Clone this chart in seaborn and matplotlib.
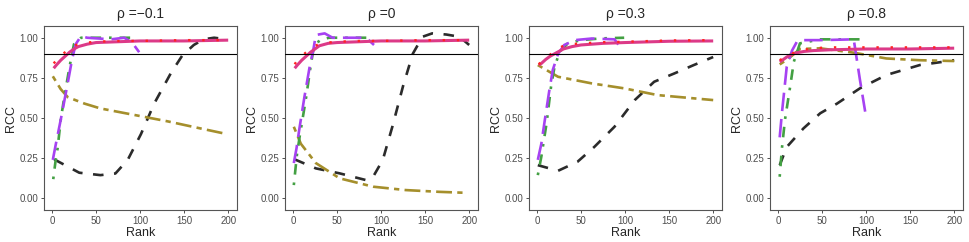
import numpy as np
import pandas as pd
import matplotlib
matplotlib.use("Agg")
import matplotlib.pyplot as plt
import seaborn as sns

sns.set_theme(style="white")
plt.rcParams['font.family'] = ['Liberation Sans', 'DejaVu Sans']

# ---------------- data ----------------
titles = ["ρ =\u22120.1", "ρ =0", "ρ =0.3", "ρ =0.8"]
x_ticks = [0, 50, 100, 150, 200]
y_ticks = [0.00, 0.25, 0.50, 0.75, 1.00]
threshold = 0.9

rank_a = [2, 5, 10, 15, 20, 25, 30, 40, 50, 75, 100, 150, 200]

# panel 1: rho = -0.1
p1_red = [0.84, 0.86, 0.89, 0.91, 0.93, 0.95, 0.96, 0.97, 0.975, 0.98, 0.98, 0.985, 0.985]
p1_mag = [0.81, 0.83, 0.86, 0.885, 0.91, 0.93, 0.945, 0.96, 0.97, 0.975, 0.98, 0.98, 0.985]
p1_pur_r = [1, 4.5, 10, 18, 23, 27, 33, 40, 67, 82, 91, 99]
p1_pur = [0.24, 0.34, 0.49, 0.72, 0.87, 0.96, 1.01, 1.0, 0.99, 1.0, 0.97, 0.91]
p1_grn_r = [1.5, 4.5, 6.4, 10, 14, 20, 25, 33, 55, 91]
p1_grn = [0.12, 0.25, 0.31, 0.49, 0.63, 0.82, 0.96, 1.0, 1.0, 1.0]
p1_olv_r = [1, 10, 18, 37, 55, 93, 131, 169, 199]
p1_olv = [0.76, 0.68, 0.63, 0.59, 0.56, 0.52, 0.48, 0.435, 0.40]
p1_blk_r = [2.6, 31, 55, 72, 86, 101, 116, 135, 148, 161, 172, 184, 199]
p1_blk = [0.243, 0.16, 0.145, 0.155, 0.24, 0.40, 0.59, 0.78, 0.89, 0.955, 0.99, 1.0, 0.99]

# panel 2: rho = 0
p2_red = [0.835, 0.86, 0.885, 0.91, 0.93, 0.95, 0.96, 0.97, 0.975, 0.98, 0.98, 0.985, 0.985]
p2_mag = [0.81, 0.83, 0.86, 0.885, 0.91, 0.93, 0.95, 0.965, 0.97, 0.975, 0.98, 0.98, 0.985]
p2_pur_r = [1, 4, 7.5, 13, 19, 23, 26, 36, 45, 68, 83, 92]
p2_pur = [0.22, 0.31, 0.44, 0.63, 0.82, 0.92, 1.017, 1.027, 1.0, 1.0, 1.0, 0.955]
p2_grn_r = [1, 4.5, 7.5, 15, 20, 23, 30, 41, 91]
p2_grn = [0.083, 0.27, 0.38, 0.63, 0.82, 0.92, 0.985, 1.0, 1.0]
p2_olv_r = [1, 9, 26, 53, 91, 128, 166, 196]
p2_olv = [0.446, 0.34, 0.22, 0.125, 0.073, 0.052, 0.041, 0.035]
p2_blk_r = [2, 26, 53, 83, 91, 102, 113, 125, 136, 147, 158, 174, 189, 200]
p2_blk = [0.243, 0.187, 0.156, 0.114, 0.135, 0.24, 0.45, 0.70, 0.90, 1.006, 1.027, 1.02, 1.006, 0.955]

# panel 3: rho = 0.3
p3_red = [0.835, 0.85, 0.875, 0.895, 0.915, 0.935, 0.95, 0.96, 0.965, 0.972, 0.975, 0.983, 0.985]
p3_mag = [0.83, 0.84, 0.865, 0.885, 0.9, 0.915, 0.93, 0.945, 0.955, 0.965, 0.97, 0.978, 0.98]
p3_pur_r = [1, 5, 9, 14, 18, 24, 31, 43, 62, 88, 94, 97]
p3_pur = [0.24, 0.34, 0.49, 0.67, 0.80, 0.90, 0.955, 0.985, 0.995, 0.99, 0.945, 0.925]
p3_grn_r = [1, 5, 11, 16, 20, 26, 35, 50, 73, 99]
p3_grn = [0.145, 0.26, 0.47, 0.695, 0.82, 0.913, 0.965, 0.985, 0.996, 1.0]
p3_olv_r = [1, 24, 62, 99, 137, 200]
p3_olv = [0.83, 0.757, 0.716, 0.685, 0.643, 0.612]
p3_blk_r = [1, 24, 46, 65, 88, 111, 133, 156, 178, 200]
p3_blk = [0.207, 0.172, 0.228, 0.32, 0.446, 0.612, 0.726, 0.778, 0.83, 0.88]

# panel 4: rho = 0.8
rank_b = [2, 5, 10, 15, 20, 30, 40, 60, 100, 150, 200]
p4_red = [0.86, 0.87, 0.885, 0.9, 0.91, 0.925, 0.935, 0.94, 0.94, 0.94, 0.94]
p4_mag = [0.85, 0.86, 0.88, 0.895, 0.905, 0.915, 0.92, 0.925, 0.93, 0.93, 0.935]
p4_pur_r = [2, 4.5, 10, 16, 21.5, 29, 48, 86, 93, 99]
p4_pur = [0.38, 0.53, 0.82, 0.92, 0.975, 0.985, 0.985, 0.99, 0.74, 0.54]
p4_grn_r = [2, 4.5, 8, 14, 18, 25, 48, 93]
p4_grn = [0.135, 0.31, 0.49, 0.70, 0.85, 0.965, 0.99, 0.99]
p4_olv_r = [2, 12, 25, 48, 86, 123, 161, 200]
p4_olv = [0.834, 0.87, 0.93, 0.934, 0.907, 0.871, 0.86, 0.855]
p4_blk_r = [2, 10, 29, 48, 67, 93, 123, 161, 200]
p4_blk = [0.207, 0.32, 0.436, 0.53, 0.59, 0.685, 0.768, 0.83, 0.86]

panels = [
    dict(red=(rank_a, p1_red), mag=(rank_a, p1_mag), pur=(p1_pur_r, p1_pur),
         grn=(p1_grn_r, p1_grn), olv=(p1_olv_r, p1_olv), blk=(p1_blk_r, p1_blk)),
    dict(red=(rank_a, p2_red), mag=(rank_a, p2_mag), pur=(p2_pur_r, p2_pur),
         grn=(p2_grn_r, p2_grn), olv=(p2_olv_r, p2_olv), blk=(p2_blk_r, p2_blk)),
    dict(red=(rank_a, p3_red), mag=(rank_a, p3_mag), pur=(p3_pur_r, p3_pur),
         grn=(p3_grn_r, p3_grn), olv=(p3_olv_r, p3_olv), blk=(p3_blk_r, p3_blk)),
    dict(red=(rank_b, p4_red), mag=(rank_b, p4_mag), pur=(p4_pur_r, p4_pur),
         grn=(p4_grn_r, p4_grn), olv=(p4_olv_r, p4_olv), blk=(p4_blk_r, p4_blk)),
]

# ---------------- styles ----------------
LW = 1.9
styles = [
    ("blk", "#2b2b2b", (0, (4, 4)), LW),
    ("olv", "#a58f2c", (0, (2, 2, 6, 2)), LW),
    ("grn", "#43a043", (0, (1, 3, 4, 3)), LW),
    ("pur", "#a642f2", (0, (7, 3)), LW),
    ("mag", "#dc3a88", "-", 2.2),
    ("red", "#ff2323", (0, (1, 5)), 1.7),
]

fig = plt.figure(figsize=(9.69, 2.42), dpi=100)
lefts = [44, 285, 529, 770]
W = 969.0
H = 242.0
for i, pan in enumerate(panels):
    ax = fig.add_axes([lefts[i] / W, (H - 210) / H, 193 / W, (210 - 26) / H])
    for key, col, ls, lw in styles:
        xs, ys = pan[key]
        df = pd.DataFrame({"Rank": xs, "RCC": ys})
        sns.lineplot(data=df, x="Rank", y="RCC", ax=ax, color=col, linestyle=ls,
                     linewidth=lw, sort=False, estimator=None, solid_capstyle="butt",
                     dash_capstyle="butt")
    ax.axhline(threshold, color="black", linewidth=0.8, zorder=5)
    ax.set_xlim(-9, 210)
    ax.set_ylim(-0.072, 1.073)
    ax.set_xticks(x_ticks)
    ax.set_yticks(y_ticks)
    ax.set_yticklabels([f"{v:.2f}" for v in y_ticks])
    ax.tick_params(axis="both", which="both", direction="out", length=2.5, width=0.6,
                   color="#333333", labelsize=7, labelcolor="#4d4d4d", pad=1.5,
                   bottom=True, left=True)
    for s in ax.spines.values():
        s.set_color("#555555")
        s.set_linewidth(0.8)
    ax.set_xlabel("Rank", fontsize=9, labelpad=1)
    ax.set_ylabel("RCC", fontsize=9, labelpad=2)
    ax.set_title(titles[i], fontsize=10, pad=6)
    ax.grid(False)

fig.savefig("out.png", dpi=100)
